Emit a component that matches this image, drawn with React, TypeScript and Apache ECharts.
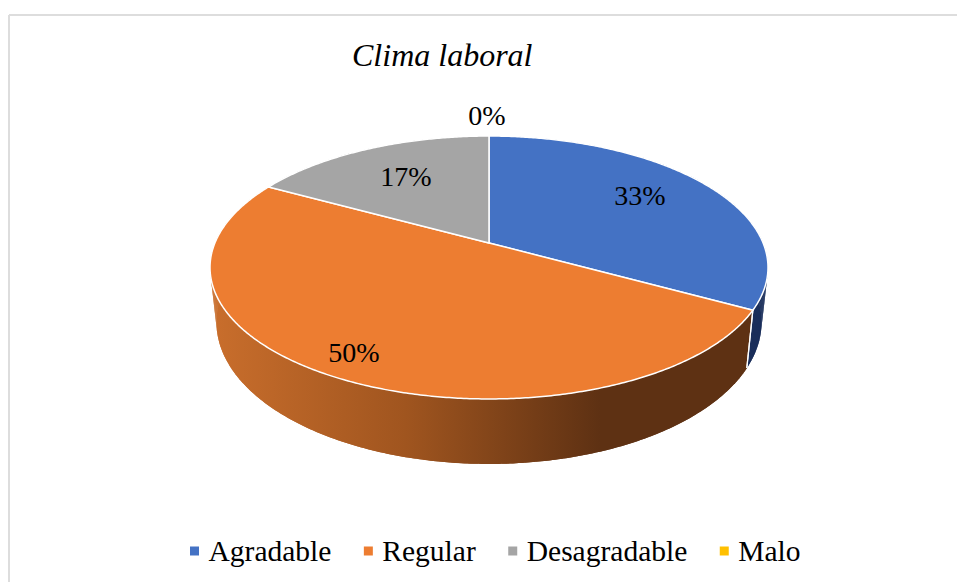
import React, { useEffect, useRef } from "react";
import * as echarts from "echarts";

const categories = ["Agradable", "Regular", "Desagradable", "Malo"];
const sliceValues = [33, 50, 17, 0];
const topColors = ["#4472C4", "#ED7D31", "#A5A5A5", "#FFC000"];
const labelCentres = [[640, 195], [354, 352], [406, 176], [487, 115]];
const FONT = '"Liberation Serif", "Times New Roman", serif';

const total = sliceValues.reduce((a, b) => a + b, 0);
const starts = sliceValues.map((_, i) => sliceValues.slice(0, i).reduce((a, b) => a + b, 0));

// Perspective projection of the pie's disc: apex and tilt of the top face
const APEX_X = 489, APEX_Y = 243, PX = 274.1, PY = 126.9, TILT = -0.1863;
function rim(theta: number, depth: boolean): number[] {
  const u = Math.sin(theta), v = -Math.cos(theta);
  const w = 1 + TILT * v;
  const x = APEX_X + (PX * u) / w;
  const y = APEX_Y + (PY * v) / w;
  if (!depth) return [x, y];
  return [APEX_X + 0.977 * (x - APEX_X), 33.5 + 1.079 * y];
}
function arcPts(a0: number, a1: number, depth: boolean): number[][] {
  const n = Math.max(1, Math.ceil(Math.abs(a1 - a0) / (Math.PI / 360)));
  const out: number[][] = [];
  for (let k = 0; k <= n; k++) out.push(rim(a0 + ((a1 - a0) * k) / n, depth));
  return out;
}
const angle = (p: number) => (p / total) * Math.PI * 2;

function wallFill(i: number) {
  if (i === 0) return "#1B2F5B";
  if (i === 1)
    return new echarts.graphic.LinearGradient(
      211, 0, 600, 0,
      [
        { offset: 0, color: "#C96E2C" },
        { offset: 0.5, color: "#A0551F" },
        { offset: 1, color: "#5E3113" },
      ],
      true
    );
  return i === 2 ? "#636363" : "#997300";
}

function renderWall(params: any, api: any) {
  const i = params.dataIndex;
  const val = api.value(0);
  if (!(val > 0)) return { type: "group", children: [] };
  const a0 = angle(starts[i]);
  const a1 = angle(starts[i] + val);
  const fill = wallFill(i);
  const children: any[] = [];
  // Base band between the rims, free of seams
  children.push({
    type: "polygon",
    shape: { points: [...arcPts(a0, a1, false), ...arcPts(a1, a0, true)] },
    style: { fill },
  });
  // Ruled strips fill the silhouette where the two rims cross
  const n = Math.ceil((a1 - a0) / (Math.PI / 180));
  for (let k = 0; k < n; k++) {
    const t0 = a0 + ((a1 - a0) * k) / n;
    const t1 = a0 + ((a1 - a0) * (k + 1)) / n;
    children.push({
      type: "polygon",
      z2: 1,
      shape: { points: [rim(t0, false), rim(t1, false), rim(t1, true), rim(t0, true)] },
      style: { fill },
    });
  }
  [a0, a1].forEach((t) => {
    const p = rim(t, false), q = rim(t, true);
    children.push({
      type: "line",
      z2: 5,
      shape: { x1: p[0], y1: p[1], x2: q[0], y2: q[1] },
      style: { stroke: "#FFFFFF", lineWidth: 1.2 },
    });
  });
  return { type: "group", children };
}

function makeTop(i: number) {
  return (_params: any, api: any) => {
    const val = api.value(0);
    const children: any[] = [];
    if (val > 0) {
      const a0 = angle(starts[i]);
      const a1 = angle(starts[i] + val);
      children.push({
        type: "polygon",
        shape: { points: [[APEX_X, APEX_Y], ...arcPts(a0, a1, false)] },
        style: { fill: topColors[i], stroke: "#FFFFFF", lineWidth: 1.5 },
      });
    }
    children.push({
      type: "text",
      z2: 10,
      style: {
        text: `${Math.round((val / total) * 100)}%`,
        x: labelCentres[i][0],
        y: labelCentres[i][1],
        align: "center",
        verticalAlign: "middle",
        font: `28px ${FONT}`,
        fill: "#000000",
      },
    });
    return { type: "group", children };
  };
}

export default function App() {
  const ref = useRef<HTMLDivElement>(null);
  useEffect(() => {
    const chart = echarts.init(ref.current!, undefined, { renderer: "svg" });
    chart.setOption({
      animation: false,
      color: topColors,
      title: {
        text: "Clima laboral",
        left: 352,
        top: 39,
        textStyle: { fontFamily: FONT, fontStyle: "italic", fontWeight: "normal", fontSize: 32, color: "#000" },
        padding: 0,
      },
      legend: {
        data: categories.map((name) => ({ name, icon: "rect" })),
        left: 190,
        top: 536,
        padding: 0,
        itemWidth: 9,
        itemHeight: 9,
        itemGap: 32.5,
        selectedMode: false,
        textStyle: { fontFamily: FONT, fontSize: 29.5, color: "#000", padding: [0, 0, 0, 4.5] },
      },
      graphic: [
        { type: "line", shape: { x1: 9, y1: 15, x2: 957, y2: 15 }, style: { stroke: "#DDDDDD", lineWidth: 2 } },
        { type: "line", shape: { x1: 9, y1: 15, x2: 9, y2: 582 }, style: { stroke: "#DDDDDD", lineWidth: 2 } },
      ],
      series: [
        {
          type: "custom",
          name: "Lateral",
          coordinateSystem: "none",
          z: 2,
          silent: true,
          renderItem: renderWall,
          data: sliceValues.map((v) => [v]),
        },
        ...categories.map((name, i) => ({
          type: "custom",
          name,
          coordinateSystem: "none",
          z: 3,
          silent: true,
          itemStyle: { color: topColors[i] },
          renderItem: makeTop(i),
          data: [[sliceValues[i]]],
        })),
      ],
    });
    return () => chart.dispose();
  }, []);
  return <div ref={ref} style={{ position: "absolute", left: 0, top: 0, width: 957, height: 582, background: "#fff" }} />;
}
